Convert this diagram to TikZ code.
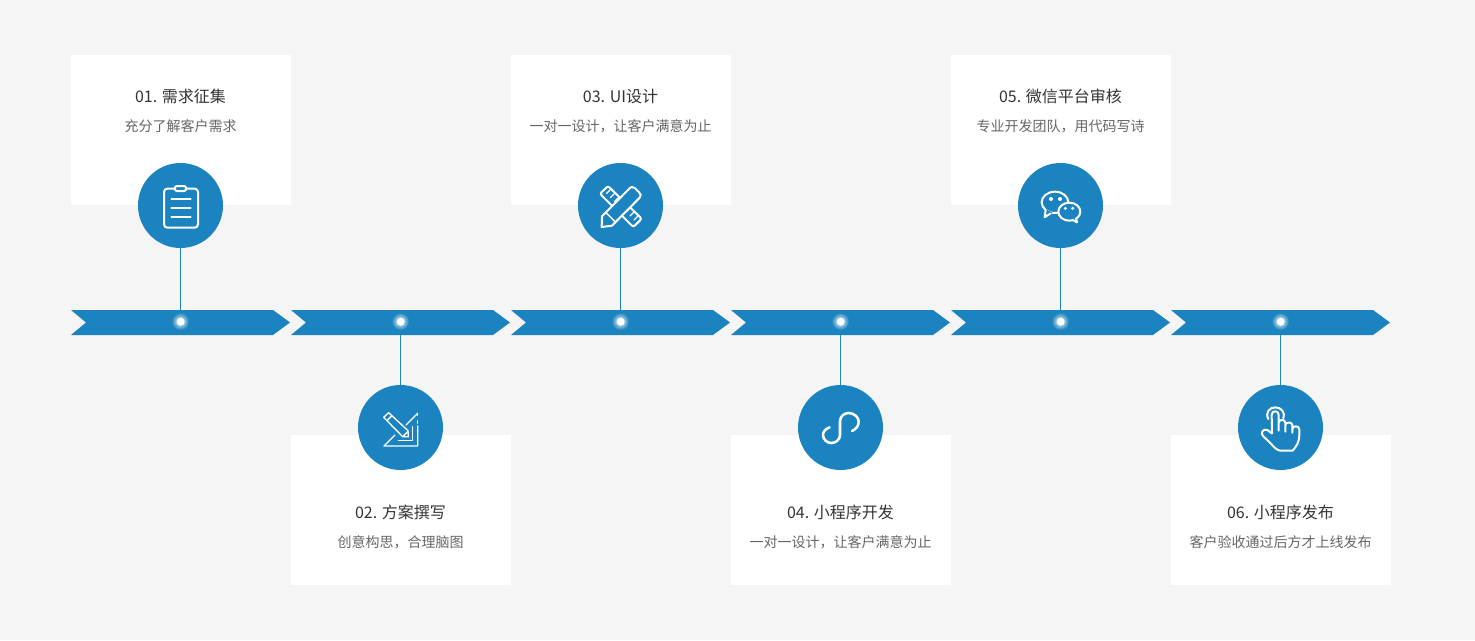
\documentclass[tikz,border=0pt]{standalone}
\usepackage{fontspec}
\setmainfont{Noto Sans CJK SC}
\definecolor{pagebg}{HTML}{F5F5F5}
\definecolor{mainblue}{HTML}{1B83C0}
\definecolor{titlecol}{HTML}{333333}
\definecolor{subcol}{HTML}{666666}
\tikzset{
  card/.style={fill=white,inner sep=0pt,minimum width=165pt,minimum height=112.5pt},
  bub/.style={circle,fill=mainblue,inner sep=0pt,minimum size=63.75pt},
  ttl/.style={text=titlecol,font=\fontsize{12}{14}\selectfont,inner sep=0pt},
  subt/.style={text=subcol,font=\fontsize{10.5}{13}\selectfont,inner sep=0pt},
  stem/.style={draw=mainblue,line width=.75pt},
  chev/.style={fill=mainblue},
  dotn/.style={circle,fill=white,inner sep=0pt,minimum size=6pt},
  icon/.style={draw=white,line width=1.5pt,line cap=round,line join=round},
  iconthin/.style={draw=white,line width=1pt,line cap=round,line join=round},
  zoomed/.style={shift={#1},x=.25pt,y=-.25pt}
}
\begin{document}
\begin{tikzpicture}[x=.75pt,y=-.75pt]
\fill[pagebg] (0,0) rectangle (1475,640);
\useasboundingbox (0,0) rectangle (1475,640);
% bars
\foreach \a in {71,291,511,731,951,1171}{
  \fill[chev] (\a,310) -- (\a+202,310) -- (\a+219,322.5) -- (\a+202,335) -- (\a,335) -- (\a+15,322.5) -- cycle;
}
% upper cards
\foreach \n/\cx/\t/\s in {1/181/{01. 需求征集}/{充分了解客户需求},3/621/{03. UI设计}/{一对一设计，让客户满意为止},5/1061/{05. 微信平台审核}/{专业开发团队，用代码写诗}}{
  \node[card] (k\n) at (\cx,130) {};
  \node[ttl] (t\n) at (\cx-.5,96) {\t};
  \node[subt] (s\n) at (\cx-.5,126) {\s};
  \node[bub] (c\n) at (\cx-.5,205.5) {};
  \coordinate (b\n) at (\cx-.5,310);
  \draw[stem] (c\n.south) -- (b\n);
}
% lower cards
\foreach \n/\cx/\t/\s in {2/401/{02. 方案撰写}/{创意构思，合理脑图},4/841/{04. 小程序开发}/{一对一设计，让客户满意为止},6/1281/{06. 小程序发布}/{客户验收通过后方才上线发布}}{
  \node[card] (k\n) at (\cx,510) {};
  \node[ttl] (t\n) at (\cx-.5,512) {\t};
  \node[subt] (s\n) at (\cx-.5,542) {\s};
  \node[bub] (c\n) at (\cx-.5,427.5) {};
  \coordinate (b\n) at (\cx-.5,335);
  \draw[stem] (b\n) -- (c\n.north);
}
% dots with glow
\foreach \n/\cx in {1/180.7,2/400.7,3/620.7,4/840.7,5/1060.7,6/1280.7}{
  \foreach \r in {8.6,8,7.5,7,6.6,6.2,5.8,5.5,5.2,4.9,4.6,4.3}{\fill[white,opacity=.07] (\cx,321.7) circle[radius=\r];}
  \node[dotn] (d\n) at (\cx,321.7) {};
}
% icon 1: clipboard
\begin{scope}[zoomed={(130,160)}]
  \draw[icon,rounded corners=2.5pt] (133,86) -- (102,86) -- (102,203) -- (204,203) -- (204,86) -- (170,86);
  \draw[icon,rounded corners=1.8pt] (134,78) rectangle (169,93);
  \draw[icon] (124,118) -- (182,118) (124,145) -- (182,145) (124,172) -- (182,172);
\end{scope}
% icon 2: pencil and set square
\begin{scope}[zoomed={(340,380)}]
  \draw[iconthin] (233,100) -- (198,135) (165,165) -- (132,198) -- (233,198) -- (233,138);
  \draw[iconthin] (233,100) -- (233,106) (233,122) -- (233,130);
  \draw[iconthin] (175,182) -- (217,182) -- (217,140);
  \draw[iconthin] (131,112) -- (146,98) -- (204,152) -- (205,170) -- (188,170) -- cycle;
  \draw[iconthin] (141,122) -- (156,107) (190,168) -- (204,154);
\end{scope}
% icon 3: ruler and pencil
\begin{scope}[zoomed={(570,160)}]
  \draw[icon,rounded corners=1.5pt] (90,101) -- (114,78) -- (215,176) -- (190,201) -- cycle;
  \draw[iconthin] (122,88) -- (110,100) (134,100) -- (122,112) (146,112) -- (134,124);
  \draw[iconthin] (180,144) -- (168,156) (192,156) -- (180,168) (204,168) -- (192,180);
  \draw[icon,fill=mainblue,line join=round] (96,169) -- (174,90) .. controls (182,80) and (188,78) .. (194,84) -- (208,98) .. controls (214,104) and (214,108) .. (208,114) -- (126,197) -- (95,201) -- cycle;
  \draw[iconthin] (108,158) -- (136,186);
\end{scope}
% icon 4: mini program S
\begin{scope}[zoomed={(790,380)}]
  \draw[draw=white,line width=1.9pt,line cap=round] (119,142) .. controls (107,146) and (99,155) .. (99,165) .. controls (99,178) and (111,189) .. (124,189) .. controls (138,189) and (150,178) .. (150,165) -- (150,124) .. controls (150,110) and (162,99) .. (176,99) .. controls (192,99) and (206,111) .. (206,125) .. controls (206,138) and (198,148) .. (186,153);
\end{scope}
% icon 5: chat bubbles
\begin{scope}[zoomed={(1010,160)}]
  \draw[icon] (135,127) ellipse[x radius=40,y radius=32];
  \fill[mainblue] (108,148) -- (104,174) -- (128,158) -- cycle;
  \draw[icon] (107,150) -- (104,172) -- (122,160);
  \draw[icon,fill=mainblue] (178,155) ellipse[x radius=33,y radius=27];
  \fill[mainblue] (192,170) -- (202,188) -- (190,180) -- cycle;
  \draw[icon] (198,175) -- (201,187) -- (188,180);
  \fill[white] (123,117) circle[radius=6] (150,117) circle[radius=6] (166,145) circle[radius=5] (188,145) circle[radius=5];
\end{scope}
% icon 6: hand
\begin{scope}[zoomed={(1230,380)}]
  \draw[icon] (115,117) .. controls (105,98) and (118,82) .. (136,82) .. controls (154,82) and (167,98) .. (160,115);
  \draw[icon] (126,160) -- (125,105) .. controls (125,90) and (146,90) .. (146,105) -- (146,152) (146,128) .. controls (146,117) and (166,117) .. (166,128) -- (166,155) (166,135) .. controls (166,125) and (187,125) .. (187,135) -- (187,158) (187,148) .. controls (187,136) and (208,136) .. (208,148) -- (208,165) .. controls (208,185) and (200,198) .. (188,212) -- (150,212) .. controls (140,210) and (130,200) .. (122,190) -- (99,168) .. controls (90,158) and (100,145) .. (112,150) -- (126,160);
\end{scope}
\end{tikzpicture}
\end{document}
